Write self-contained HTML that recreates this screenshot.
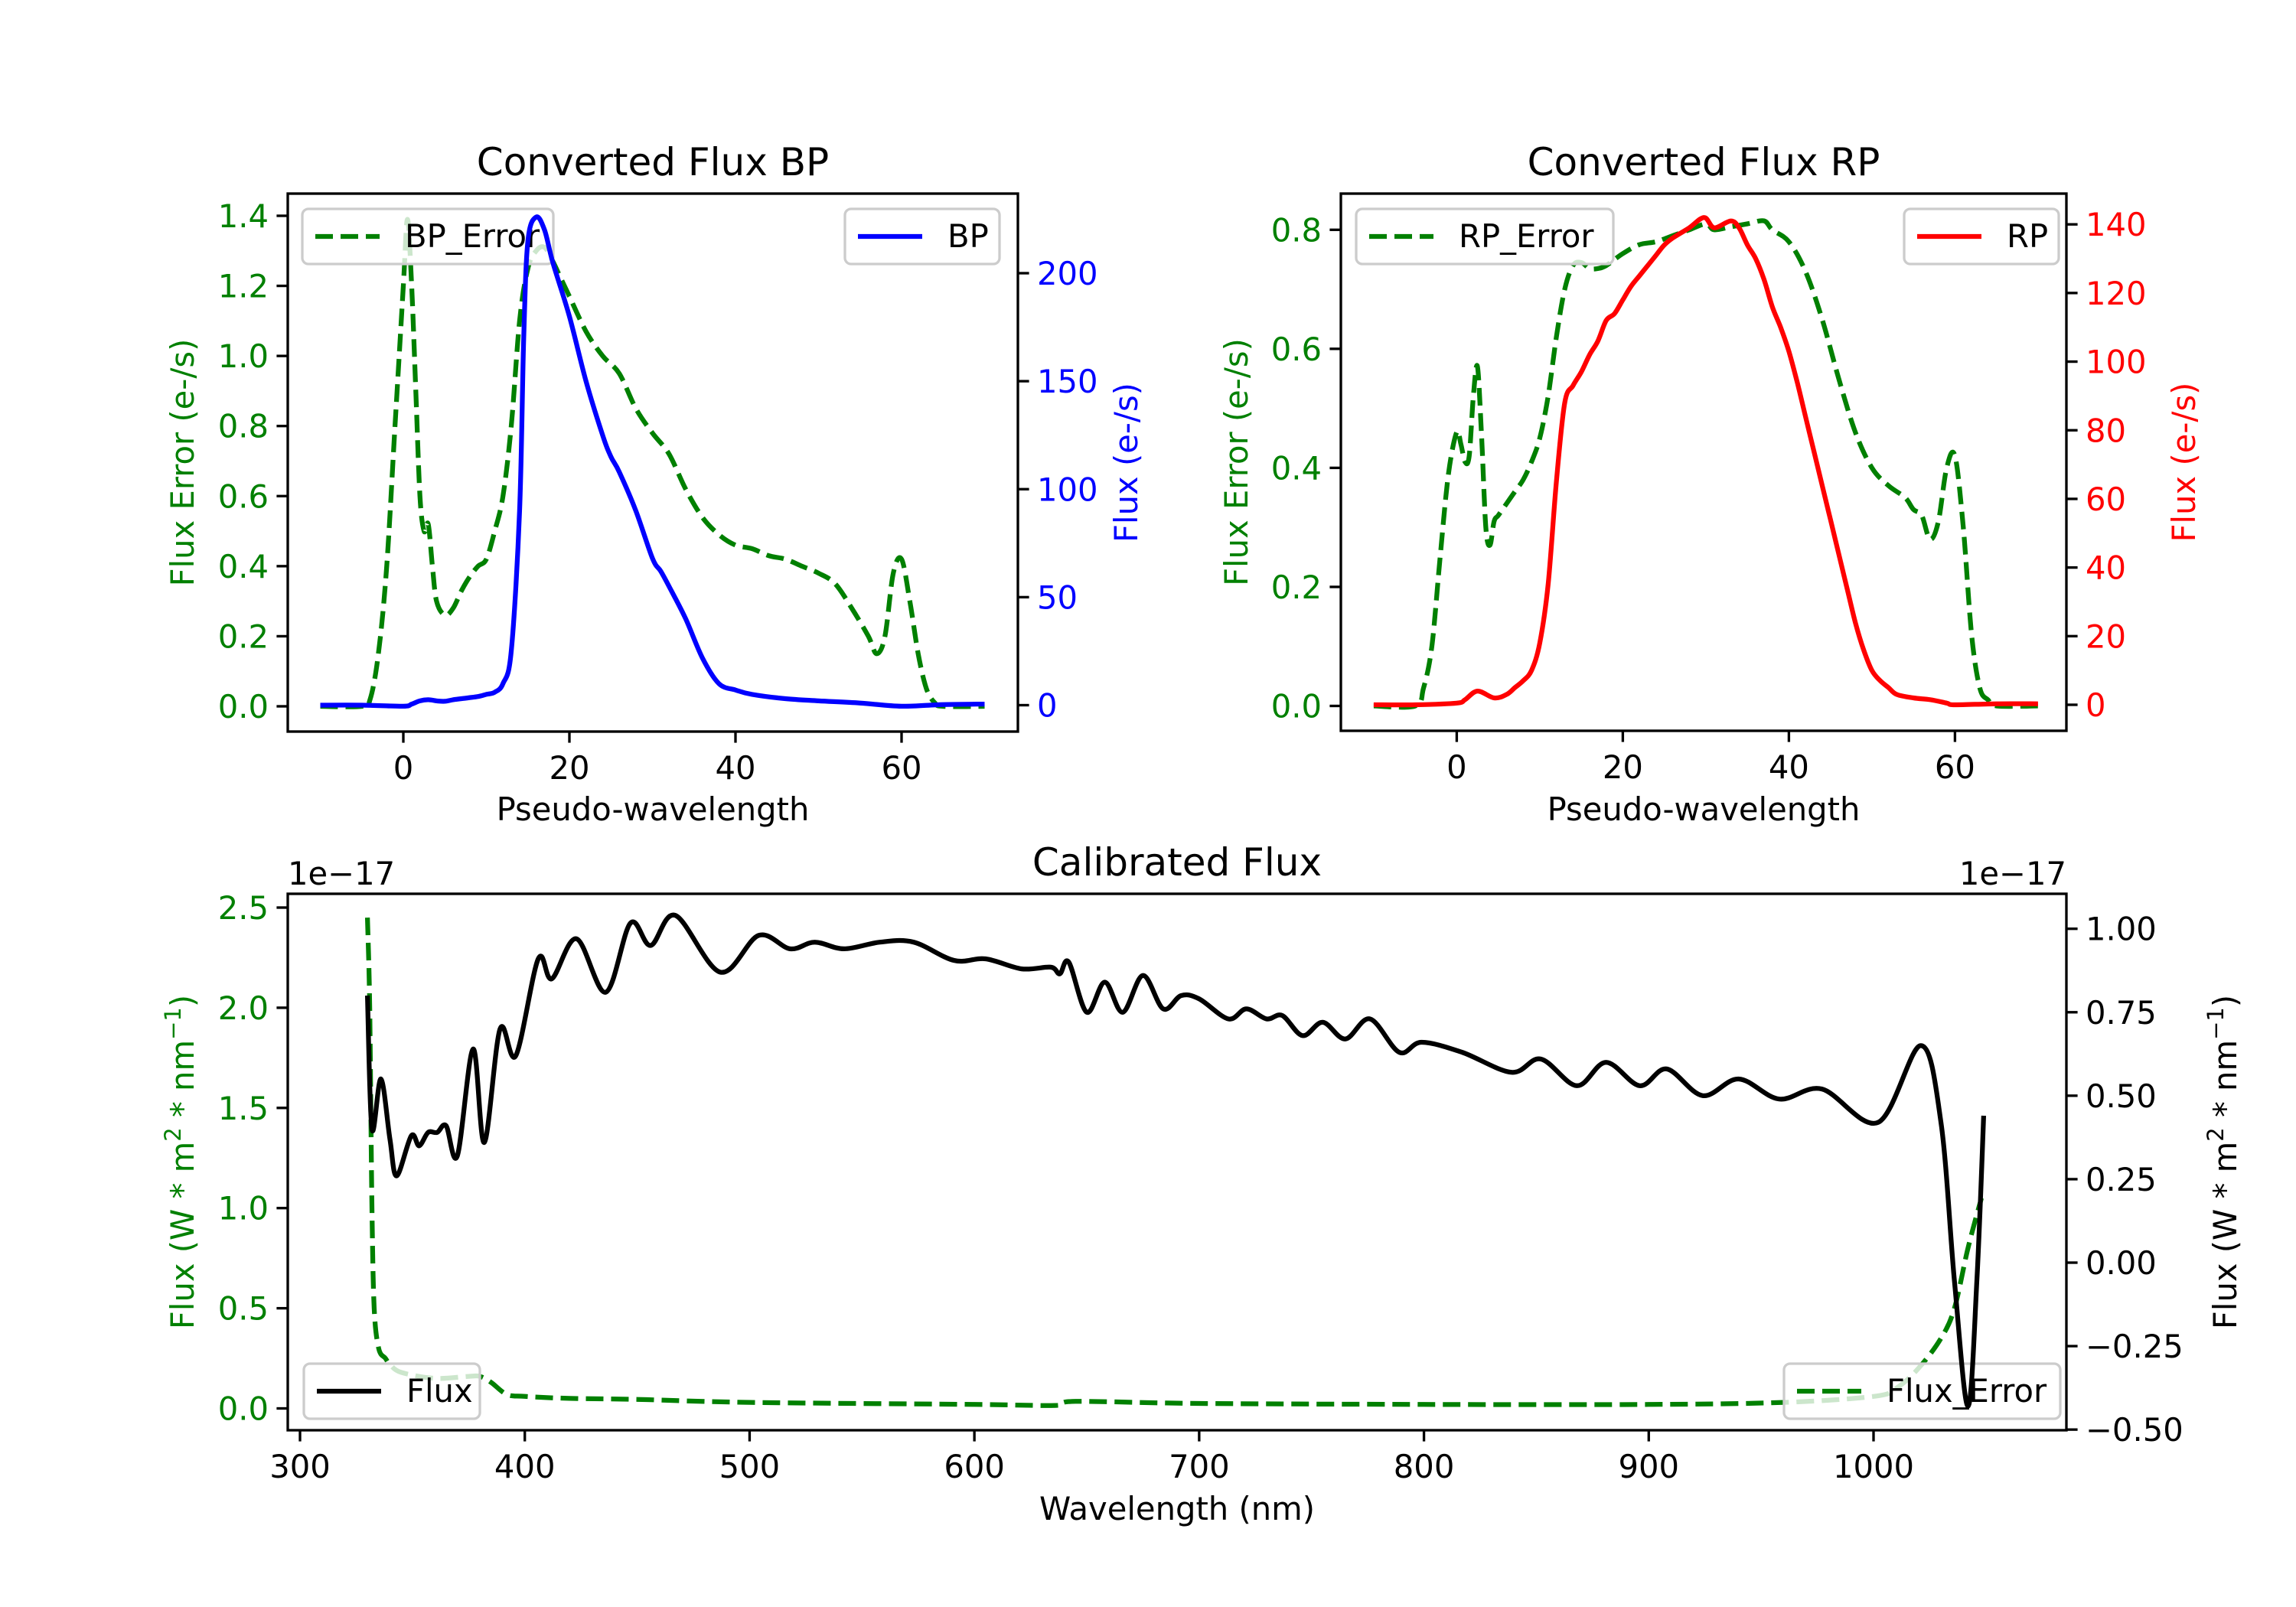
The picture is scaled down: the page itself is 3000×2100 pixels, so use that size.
<!DOCTYPE html>
<html><head><meta charset="utf-8"><style>
html,body{margin:0;padding:0;background:#fff;}
svg{display:block;font-family:"DejaVu Sans","Liberation Sans",sans-serif;}
</style></head><body>
<svg id="fig" width="3000" height="2100" viewBox="0 0 3000 2100" xmlns="http://www.w3.org/2000/svg">
<rect width="3000" height="2100" fill="#fff"/>
</svg>
<script>
// ---- BP panel data ----
const bpX = [-10,-5,0,1,2,3,4,5,6,7,8,9,10,11,12,13,14,14.5,15,16,17,18,20,22,24,25,26,28,30,31,32,34,36,38,40,42,46,50,55,60,65,70];
const bpFlux = [0,0,-0.5,0.5,2,2.5,2,1.8,2.5,3,3.5,4,5,6,10,25,90,170,215,226,220,205,180,150,125,115,108,90,68,62,55,40,22,10,7,5,3,2,1,-0.5,0.3,0.5];
const bpErrX = [-10,-5,-4,-3,-2,-1,0,0.5,1,1.5,2,2.5,3,3.5,4,5,6,7,8,9,10,11,12,13,14,15,16,17,18,19,20,22,24,26,28,30,32,34,36,38,40,42,44,46,48,50,52,54,56,57,58,59,60,61,62,63,64,65,70];
const bpErr = [0,0,0.02,0.15,0.4,0.8,1.2,1.39,1.2,0.9,0.6,0.5,0.52,0.4,0.3,0.26,0.28,0.33,0.37,0.4,0.42,0.5,0.6,0.8,1.1,1.25,1.3,1.31,1.27,1.22,1.17,1.07,1.0,0.95,0.85,0.78,0.72,0.62,0.54,0.49,0.46,0.45,0.43,0.42,0.40,0.38,0.35,0.28,0.2,0.15,0.2,0.38,0.42,0.3,0.15,0.05,0.01,0,0];
const bpLeftTicks = [0.0,0.2,0.4,0.6,0.8,1.0,1.2,1.4];
const bpRightTicks = [0,50,100,150,200];
const pwTicks = [0,20,40,60];
// ---- RP panel data ----
const rpX = [-10,-5,0,1,2.5,4.5,6,7,8,9,10,11,12,13,14,15,16,17,18,19,20,21,22,23,24,25,26,28,29.8,31,33,34,35,36,37,38,39,40,41,42,43,44,45,46,47,48,49,50,51,52,53,55,57,59,60,65,70];
const rpFlux = [0,0,0.5,1.5,4,2,3,5,7,10,18,35,65,88,93,97,102,106,112,114,118,122,125,128,131,134,136,139,142,139,141,139,134,130,124,116,110,103,94,84,74,64,54,44,34,24,16,10,7,5,3,2,1.5,0.5,0,0.3,0.3];
const rpErrX = [-10,-5,-4,-3,-2,-1,0,0.5,1,1.5,2,2.5,3,3.5,4,4.5,5,6,7,8,9,10,11,12,13,14,15,16,17,18,20,22,24,26,28,30,31,33,35,37,38,40,42,44,46,48,50,52,54,55,56,57,58,59,60,61,62,63,64,65,70];
const rpErr = [0,0,0.03,0.1,0.25,0.39,0.46,0.44,0.41,0.42,0.52,0.57,0.45,0.3,0.27,0.31,0.32,0.34,0.36,0.38,0.41,0.45,0.52,0.62,0.7,0.74,0.745,0.735,0.735,0.74,0.76,0.775,0.78,0.79,0.80,0.81,0.80,0.805,0.81,0.815,0.8,0.78,0.73,0.65,0.55,0.46,0.4,0.37,0.35,0.33,0.32,0.28,0.31,0.4,0.42,0.3,0.12,0.03,0.01,0,0];
const rpLeftTicks = [0.0,0.2,0.4,0.6,0.8];
const rpRightTicks = [0,20,40,60,80,100,120,140];
// ---- Calibrated panel data ----
const wlX = [330,332,336,340,343,349.5,353,357,361,365,370,377,382,389,396,406,412,423,436,447,456,467,487,504,518,529,542,558,573,591,605,621,634,638,642,650,658,666,675,684,692,700,713,721,730,737,746,755,765,776,789,799,817,839,852,868,881,896,908,924,940,958,977,1002,1021,1030,1036,1042,1046,1049];
const wlFlux = [0.80,0.40,0.55,0.37,0.26,0.38,0.35,0.39,0.39,0.41,0.32,0.64,0.36,0.70,0.62,0.91,0.85,0.97,0.81,1.017,0.95,1.04,0.87,0.98,0.94,0.96,0.94,0.96,0.96,0.905,0.91,0.88,0.885,0.865,0.90,0.75,0.84,0.75,0.86,0.76,0.80,0.79,0.73,0.76,0.73,0.74,0.68,0.72,0.67,0.73,0.63,0.66,0.63,0.57,0.61,0.53,0.60,0.53,0.58,0.50,0.55,0.49,0.52,0.42,0.65,0.42,-0.055,-0.43,-0.05,0.44];
const errWl = [330,331,332,333,335,338,340,345,360,375,380,385,392,400,420,450,500,600,636,645,700,800,900,960,1000,1010,1020,1030,1036,1042,1048];
const errVal = [2.45,2.0,1.0,0.5,0.3,0.25,0.22,0.18,0.15,0.16,0.16,0.13,0.07,0.06,0.05,0.045,0.03,0.02,0.015,0.035,0.025,0.02,0.02,0.03,0.06,0.1,0.2,0.35,0.5,0.8,1.05];
const wlTicks = [300,400,500,600,700,800,900,1000];
const calLeftTicks = [0.0,0.5,1.0,1.5,2.0,2.5];
const calRightTicks = [-0.50,-0.25,0.00,0.25,0.50,0.75,1.00];

const NS = "http://www.w3.org/2000/svg";
const svg = document.getElementById('fig');
function mk(tag, attrs, parent, text){
  const e = document.createElementNS(NS, tag);
  for (const k in attrs) e.setAttribute(k, attrs[k]);
  if (text !== undefined) e.textContent = text;
  (parent||svg).appendChild(e);
  return e;
}
function lin(d0,d1,p0,p1){ return v => p0 + (v-d0)*(p1-p0)/(d1-d0); }
function pathD(xs, ys, sx, sy){
  const P = xs.map((x,i)=>[sx(x), sy(ys[i])]);
  let d = 'M'+P[0][0].toFixed(1)+' '+P[0][1].toFixed(1);
  const t = 0.5;
  for (let i=0;i<P.length-1;i++){
    const p0 = P[i-1]||P[i], p1 = P[i], p2 = P[i+1], p3 = P[i+2]||P[i+1];
    const c1 = [p1[0]+(p2[0]-p0[0])*t/3, p1[1]+(p2[1]-p0[1])*t/3];
    const c2 = [p2[0]-(p3[0]-p1[0])*t/3, p2[1]-(p3[1]-p1[1])*t/3];
    d += ' C'+c1[0].toFixed(1)+' '+c1[1].toFixed(1)+' '+c2[0].toFixed(1)+' '+c2[1].toFixed(1)+' '+p2[0].toFixed(1)+' '+p2[1].toFixed(1);
  }
  return d;
}
const FS = 41.7;
function fmt(v,dec){ return (v<0?'\u2212':'') + Math.abs(v).toFixed(dec); }

function panel(cfg){
  const g = mk('g', {});
  
  
  const {L,R,T,B} = cfg;
  const cid = cfg.name+'-clip';
  const defs = mk('defs',{},g);
  const cp = mk('clipPath',{id:cid},defs);
  mk('rect',{x:L,y:T,width:R-L,height:B-T},cp);
  const e = mk('path',{d:pathD(cfg.errX,cfg.errY,cfg.sx,cfg.syL),fill:'none',stroke:'#008000','stroke-width':6.25,'stroke-dasharray':'23 10','clip-path':'url(#'+cid+')'},g);
  
  
  cfg.legends.forEach(lg=>{
    const lgG = mk('g',{},g);
    
    
    mk('rect',{x:lg.x,y:lg.y,width:lg.w,height:lg.h,rx:8,fill:'rgba(255,255,255,0.8)',stroke:'#cccccc','stroke-width':3.3},lgG);
    const ly = lg.y+lg.h/2;
    mk('line',{x1:lg.x+17,x2:lg.x+101,y1:ly,y2:ly,stroke:lg.color,'stroke-width':6.25,'stroke-dasharray':lg.dash?'23 10':'none'},lgG);
    mk('text',{x:lg.x+134,y:ly+14,'font-size':FS,fill:'#000'},lgG,lg.label);
  });
  const m = mk('path',{d:pathD(cfg.mainX,cfg.mainY,cfg.sx,cfg.syR),fill:'none',stroke:cfg.mainColor,'stroke-width':6.25,'stroke-linejoin':'round','clip-path':'url(#'+cid+')'},g);
  
  
  mk('rect',{x:L,y:T,width:R-L,height:B-T,fill:'none',stroke:'#000','stroke-width':3.33},g);
  cfg.xTicks.forEach(v=>{
    const x = cfg.sx(v);
    mk('line',{x1:x,x2:x,y1:B,y2:B+14.6,stroke:'#000','stroke-width':3.33},g);
    const t = mk('text',{x:x,y:B+62,'font-size':FS,'text-anchor':'middle',fill:'#000'},g,String(v));
    
    
  });
  cfg.lTicks.forEach(v=>{
    const y = cfg.syL(v);
    mk('line',{x1:L-14.6,x2:L,y1:y,y2:y,stroke:'#000','stroke-width':3.33},g);
    const t = mk('text',{x:L-25,y:y+15,'font-size':FS,'text-anchor':'end',fill:'#008000'},g,fmt(v,cfg.lDec));
    
    
  });
  cfg.rTicks.forEach(v=>{
    const y = cfg.syR(v);
    mk('line',{x1:R,x2:R+14.6,y1:y,y2:y,stroke:'#000','stroke-width':3.33},g);
    const t = mk('text',{x:R+25,y:y+15,'font-size':FS,'text-anchor':'start',fill:cfg.rColor},g,fmt(v,cfg.rDec));
    
    
  });
  const tt = mk('text',{x:(L+R)/2,y:T-24,'font-size':50,'text-anchor':'middle',fill:'#000'},g,cfg.title);
  
  
  const xl = mk('text',{x:(L+R)/2,y:cfg.xlY,'font-size':FS,'text-anchor':'middle',fill:'#000'},g,cfg.xlabel);
  
  
  const cy = (T+B)/2;
  const yl = mk('text',{x:cfg.ylX,y:cy,'font-size':FS,'text-anchor':'middle',fill:'#008000',transform:'rotate(-90 '+cfg.ylX+' '+cy+')'},g);
  yl.innerHTML = cfg.ylabel;
  
  
  const yr = mk('text',{x:cfg.yrX,y:cy,'font-size':FS,'text-anchor':'middle',fill:cfg.rColor,transform:'rotate(-90 '+cfg.yrX+' '+cy+')'},g);
  yr.innerHTML = cfg.yrlabel;
  
  
  if (cfg.offset){
    const o1 = mk('text',{x:L,y:T-12,'font-size':FS,fill:'#000'},g,'1e\u221217');
    
    
    const o2 = mk('text',{x:R,y:T-12,'font-size':FS,'text-anchor':'end',fill:'#000'},g,'1e\u221217');
    
    
  }
}

panel({name:'bp-panel',L:376,R:1330,T:253,B:956,
  sx:lin(0,60,527,1178), syL:lin(0,1.4,923,282), syR:lin(0,200,921.5,357),
  errX:bpErrX, errY:bpErr, errName:'bp-error-line',
  mainX:bpX, mainY:bpFlux, mainColor:'#0000ff', mainName:'bp-flux-line',
  legends:[{name:'bp-error-legend',x:395,y:273,w:328,h:72,color:'#008000',dash:true,label:'BP_Error'},
           {name:'bp-legend',x:1104,y:273,w:202,h:72,color:'#0000ff',dash:false,label:'BP'}],
  xTicks:pwTicks,lTicks:bpLeftTicks,lDec:1,rTicks:bpRightTicks,rDec:0,rColor:'#0000ff',
  title:'Converted Flux BP',xlabel:'Pseudo-wavelength',xlY:1072,ylX:253,yrX:1486,
  ylabel:'Flux Error (e-/s)',yrlabel:'Flux (e-/s)'});
panel({name:'rp-panel',L:1752,R:2700,T:253,B:955,
  sx:lin(0,60,1903.4,2554.4), syL:lin(0,0.8,922.5,300.3), syR:lin(0,140,921,293.2),
  errX:rpErrX, errY:rpErr, errName:'rp-error-line',
  mainX:rpX, mainY:rpFlux, mainColor:'#ff0000', mainName:'rp-flux-line',
  legends:[{name:'rp-error-legend',x:1772,y:273,w:336,h:72,color:'#008000',dash:true,label:'RP_Error'},
           {name:'rp-legend',x:2488,y:273,w:202,h:72,color:'#ff0000',dash:false,label:'RP'}],
  xTicks:pwTicks,lTicks:rpLeftTicks,lDec:1,rTicks:rpRightTicks,rDec:0,rColor:'#ff0000',
  title:'Converted Flux RP',xlabel:'Pseudo-wavelength',xlY:1072,ylX:1630,yrX:2868,
  ylabel:'Flux Error (e-/s)',yrlabel:'Flux (e-/s)'});
panel({name:'calibrated-panel',L:376,R:2700,T:1168,B:1869,
  sx:lin(300,1000,392,2448), syL:lin(0,2.5,1840.5,1186), syR:lin(0,1,1650,1213.7),
  errX:errWl, errY:errVal, errName:'flux-error-line',
  mainX:wlX, mainY:wlFlux, mainColor:'#000000', mainName:'flux-line',
  legends:[{name:'flux-legend',x:397,y:1782,w:230,h:72,color:'#000',dash:false,label:'Flux'},
           {name:'flux-error-legend',x:2331,y:1782,w:361,h:72,color:'#008000',dash:true,label:'Flux_Error'}],
  xTicks:wlTicks,lTicks:calLeftTicks,lDec:1,rTicks:calRightTicks,rDec:2,rColor:'#000',
  title:'Calibrated Flux',xlabel:'Wavelength (nm)',xlY:1986,ylX:253,yrX:2922,offset:true,
  ylabel:'Flux (W * m<tspan baseline-shift="super" font-size="29">2</tspan> * nm<tspan baseline-shift="super" font-size="29">\u22121</tspan>)',
  yrlabel:'Flux (W * m<tspan baseline-shift="super" font-size="29">2</tspan> * nm<tspan baseline-shift="super" font-size="29">\u22121</tspan>)'});
</script>
</body></html>
